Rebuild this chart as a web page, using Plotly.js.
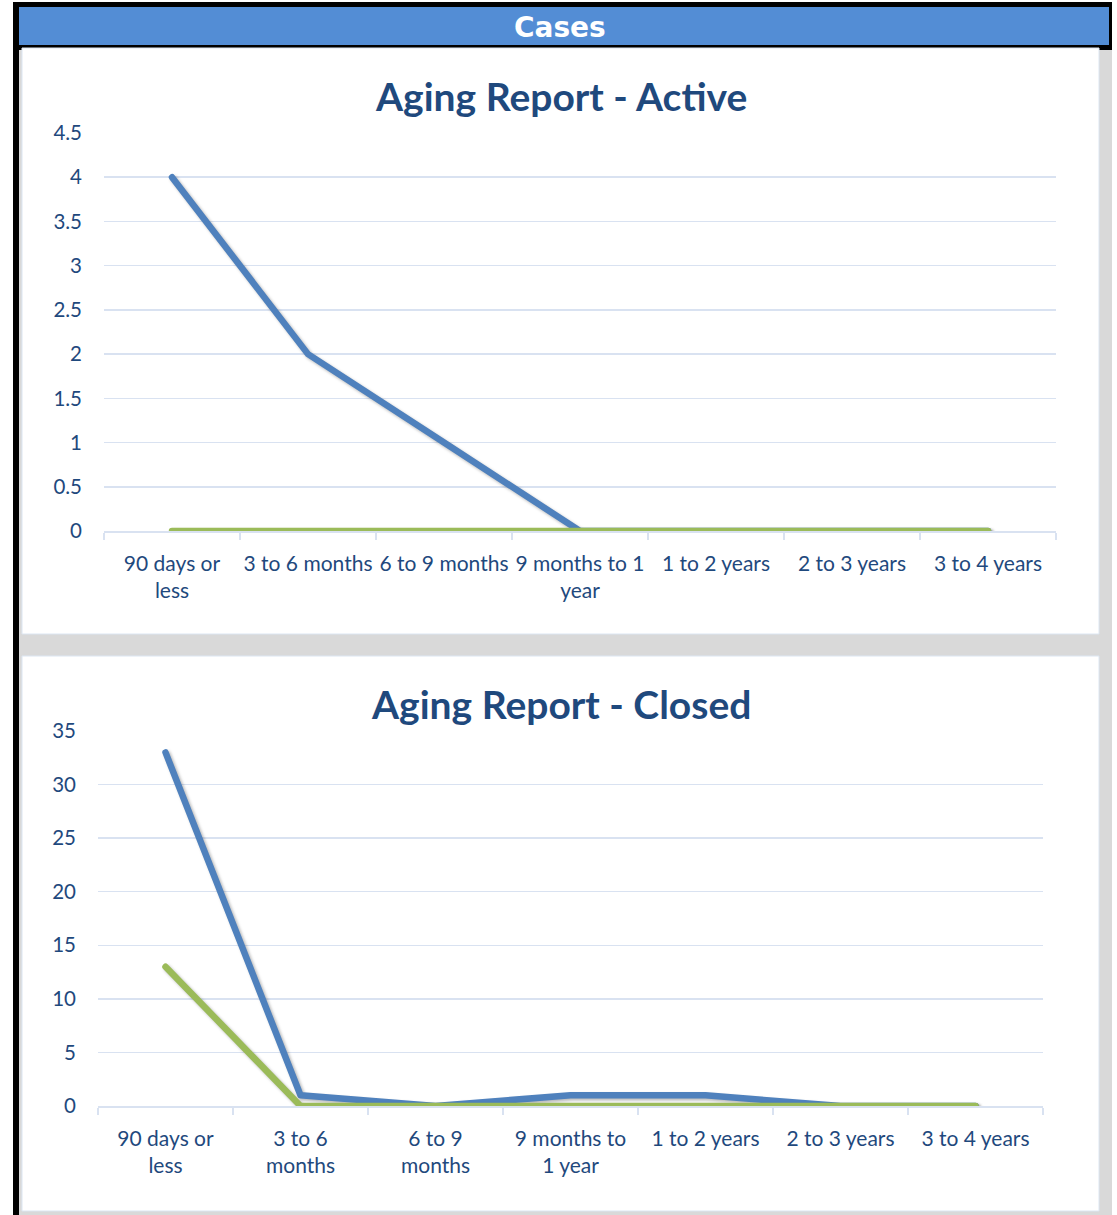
<!DOCTYPE html>
<html><head><meta charset="utf-8">
<script src="https://cdn.plot.ly/plotly-3.0.1.min.js"></script>
<style>
html,body{margin:0;padding:0;background:#fff;}
#chart{width:1117px;height:1215px;}
.scatterlayer path.js-line{stroke-linecap:round;stroke-linejoin:round;filter:drop-shadow(2px 2px 1.5px rgba(0,0,0,0.28));}
</style>
</head><body><div id="chart"></div>
<script>
const activeCategories = ["90 days or<br>less","3 to 6 months","6 to 9 months","9 months to 1<br>year","1 to 2 years","2 to 3 years","3 to 4 years"];
const closedCategories = ["90 days or<br>less","3 to 6<br>months","6 to 9<br>months","9 months to<br>1 year","1 to 2 years","2 to 3 years","3 to 4 years"];
const activeBlue  = [4, 2, 1, 0, 0, 0, 0];
const activeGreen = [0, 0, 0, 0, 0, 0, 0];
const closedBlue  = [33, 1, 0, 1, 1, 0, 0];
const closedGreen = [13, 0, 0, 0, 0, 0, 0];
const activeTicks = [0,0.5,1,1.5,2,2.5,3,3.5,4,4.5];
const closedTicks = [0,5,10,15,20,25,30,35];

const W = 1117, H = 1215;
const px = x => x / W;
const py = y => 1 - y / H;
const FONT = "Lato, 'Open Sans', sans-serif";
const NAVY = "#1F497D";
const BLUE = "#4F81BD", GREEN = "#9BBB59";
const GRID = "#D9E2F1";

function rect(x0,y0,x1,y1,fill,line){
  return {type:"rect",xref:"paper",yref:"paper",x0:px(x0),x1:px(x1),y0:py(y1),y1:py(y0),
    fillcolor:fill,line:line?{color:line,width:1}:{width:0},layer:"below"};
}

const traces = [
  {x:activeCategories,y:activeBlue,xaxis:"x",yaxis:"y",mode:"lines",line:{color:BLUE,width:6.5},hoverinfo:"skip"},
  {x:activeCategories,y:activeGreen,xaxis:"x",yaxis:"y",mode:"lines",line:{color:GREEN,width:6.5},hoverinfo:"skip"},
  {x:closedCategories,y:closedBlue,xaxis:"x2",yaxis:"y2",mode:"lines",line:{color:BLUE,width:6.5},hoverinfo:"skip"},
  {x:closedCategories,y:closedGreen,xaxis:"x2",yaxis:"y2",mode:"lines",line:{color:GREEN,width:6.5},hoverinfo:"skip"}
];

function xax(domain, anchor, cats){
  return {domain:domain,anchor:anchor,type:"category",categoryorder:"array",categoryarray:cats,
    range:[-0.5,6.5],showgrid:false,showline:true,linecolor:GRID,linewidth:1.5,
    ticks:"outside",tickson:"boundaries",ticklen:7,tickcolor:GRID,tickwidth:1.5,
    tickangle:0,tickfont:{family:FONT,size:21,color:NAVY},ticklabelstandoff:13,zeroline:false,fixedrange:true};
}
function yax(domain, anchor, range, ticks){
  return {domain:domain,anchor:anchor,range:range,tickvals:ticks,ticktext:ticks.map(String),
    showgrid:true,gridcolor:GRID,gridwidth:1.5,showline:false,zeroline:false,ticks:"",
    tickfont:{family:FONT,size:20.5,color:NAVY},ticklabelstandoff:21,fixedrange:true};
}

const layout = {
  width:W,height:H,margin:{l:0,r:0,t:0,b:0},
  paper_bgcolor:"#ffffff",plot_bgcolor:"rgba(0,0,0,0)",showlegend:false,
  xaxis: xax([px(104),px(1056)],"y",activeCategories),
  yaxis: yax([py(531),py(133)],"x",[0,4.5],activeTicks),
  xaxis2: xax([px(98),px(1043)],"y2",closedCategories),
  yaxis2: yax([py(1106),py(731)],"x2",[0,35],closedTicks),
  shapes:[
    rect(13,2,1112,1215,"#000000"),
    rect(19,50,1112,1215,"#D9D9D9"),
    rect(19,7,1109,45,"#538DD5"),
    rect(22,48,1099,634,"#FFFFFF","#DCE6F2"),
    rect(22,656,1099,1211,"#FFFFFF","#DCE6F2")
  ],
  annotations:[
    {text:"<b>Cases</b>",xref:"paper",yref:"paper",x:px(560),y:py(28),showarrow:false,xanchor:"center",yanchor:"middle",
     font:{family:"'DejaVu Sans', Verdana, sans-serif",size:28,color:"#FFFFFF"}},
    {text:"<b>Aging Report - Active</b>",xref:"paper",yref:"paper",x:px(561),y:py(96),showarrow:false,xanchor:"center",yanchor:"middle",
     font:{family:FONT,size:39,color:NAVY}},
    {text:"<b>Aging Report - Closed</b>",xref:"paper",yref:"paper",x:px(561),y:py(704),showarrow:false,xanchor:"center",yanchor:"middle",
     font:{family:FONT,size:39,color:NAVY}}
  ]
};

Plotly.newPlot("chart",traces,layout,{displayModeBar:false,staticPlot:true});
</script>
</body></html>
